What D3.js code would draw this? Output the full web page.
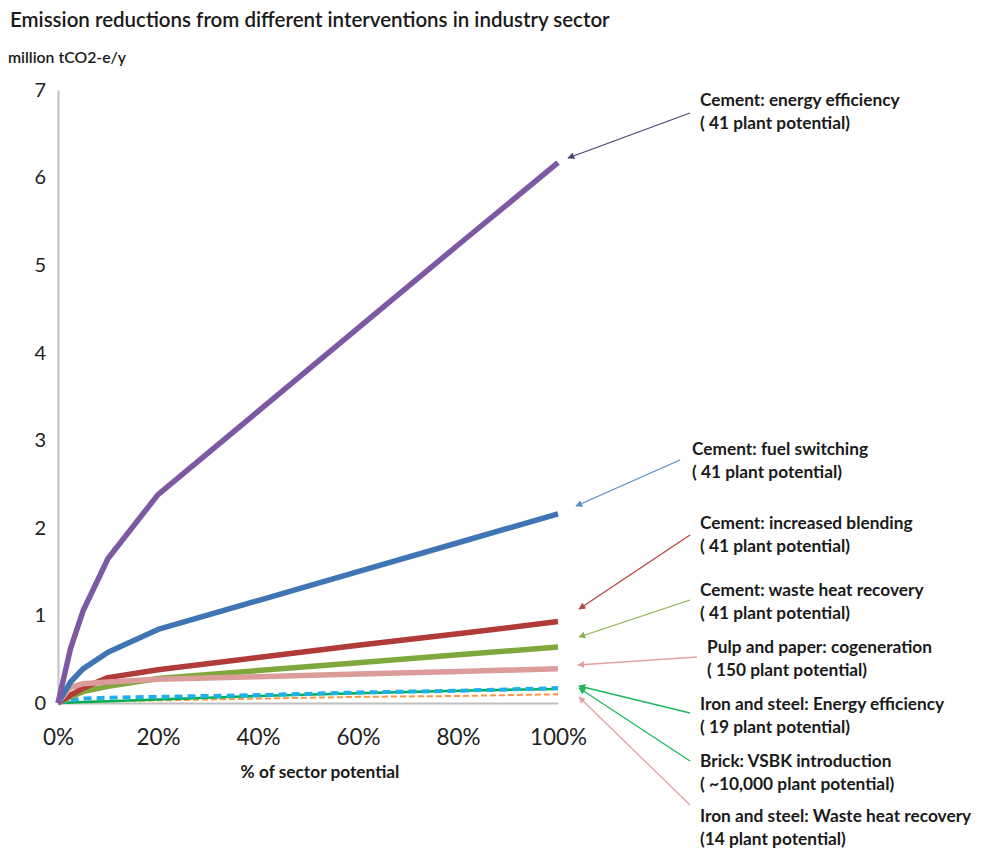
<!DOCTYPE html>
<html>
<head>
<meta charset="utf-8">
<script src="https://cdn.jsdelivr.net/npm/d3@7"></script>
<style>
  body { margin: 0; background: #fff; }
  svg { display: block; }
  .axis text { font-family: Lato, "Open Sans", sans-serif; fill: #222; }
  .note { font-family: Lato, "Open Sans", sans-serif; font-weight: bold; font-size: 17.3px; fill: #1a1a1a; }
</style>
</head>
<body>
<svg width="984" height="849"></svg>
<script>
// x positions (share of sector potential)
var sectorShare = [0, 0.025, 0.05, 0.1, 0.2, 0.4, 0.6, 0.8, 1.0];

// million tCO2-e/y
var cementEnergyEff   = [0, 0.62, 1.05, 1.65, 2.38, 3.33, 4.28, 5.23, 6.17];
var cementFuelSwitch  = [0, 0.24, 0.39, 0.58, 0.84, 1.17, 1.50, 1.83, 2.16];
var cementBlending    = [0, 0.09, 0.17, 0.29, 0.38, 0.52, 0.66, 0.79, 0.93];
var cementWasteHeat   = [0, 0.07, 0.13, 0.19, 0.28, 0.37, 0.46, 0.55, 0.64];
var pulpCogeneration  = [0, 0.18, 0.22, 0.24, 0.27, 0.30, 0.33, 0.36, 0.39];
var ironEnergyEff     = [0, 0.03, 0.05, 0.06, 0.07, 0.09, 0.12, 0.14, 0.17];
var brickVSBK         = [0, 0.005, 0.01, 0.02, 0.04, 0.08, 0.11, 0.14, 0.16];
var ironWasteHeat     = [0, 0.005, 0.01, 0.02, 0.03, 0.05, 0.07, 0.08, 0.10];

var yTicks = [0, 1, 2, 3, 4, 5, 6, 7];
var xTicks = [0, 0.2, 0.4, 0.6, 0.8, 1.0];

var noteLines = [
  ["Cement: energy efficiency", "( 41 plant potential)"],
  ["Cement: fuel switching", "( 41 plant potential)"],
  ["Cement: increased blending", "( 41 plant potential)"],
  ["Cement: waste heat recovery", "( 41 plant potential)"],
  ["Pulp and paper: cogeneration", "( 150 plant potential)"],
  ["Iron and steel: Energy efficiency", "( 19 plant potential)"],
  ["Brick: VSBK introduction", "( ~10,000 plant potential)"],
  ["Iron and steel: Waste heat recovery", "(14 plant potential)"]
];

var svg = d3.select("svg");

var x = d3.scaleLinear().domain([0, 1]).range([58, 558]);
var y = d3.scaleLinear().domain([0, 7]).range([703, 90]);

// series drawn bottom first so the big ones sit on top
var series = [
  { values: ironWasteHeat,    color: "#F79646", width: 2,   dash: "6,3" },
  { values: brickVSBK,        color: "#00B050", width: 2.5, dash: null },
  { values: ironEnergyEff,    color: "#1FB0EC", width: 4,   dash: "8,5" },
  { values: cementWasteHeat,  color: "#7FA83C", width: 5.5, dash: null },
  { values: cementBlending,   color: "#B03B38", width: 5.5, dash: null },
  { values: pulpCogeneration, color: "#DC9C9A", width: 5.5, dash: null },
  { values: cementFuelSwitch, color: "#3F75B5", width: 5.5, dash: null },
  { values: cementEnergyEff,  color: "#7D58A3", width: 5.5, dash: null }
];

// title and units
svg.append("text")
  .attr("x", 10).attr("y", 27)
  .attr("font-family", "Lato, sans-serif")
  .attr("font-size", "20.5px")
  .attr("font-weight", "600")
  .attr("fill", "#1a1a1a")
  .text("Emission reductions from different interventions in industry sector");

svg.append("text")
  .attr("x", 8).attr("y", 63)
  .attr("font-family", "Lato, sans-serif")
  .attr("font-size", "15.8px")
  .attr("font-weight", "600")
  .attr("fill", "#1a1a1a")
  .text("million tCO2-e/y");

// axes
var yAxis = svg.append("g")
  .attr("class", "axis")
  .attr("transform", "translate(" + x(0) + ",0)")
  .call(d3.axisLeft(y).tickValues(yTicks).tickSize(0).tickPadding(12).tickFormat(d3.format("d")));
yAxis.select(".domain").attr("stroke", "#BFBFBF").attr("stroke-width", 2);
yAxis.selectAll("text").attr("font-size", "20px");

var xAxis = svg.append("g")
  .attr("class", "axis")
  .attr("transform", "translate(0," + y(0) + ")")
  .call(d3.axisBottom(x).tickValues(xTicks).tickSize(0).tickPadding(26).tickFormat(d3.format(".0%")));
xAxis.select(".domain").attr("stroke", "#BFBFBF").attr("stroke-width", 2);
xAxis.selectAll("text").attr("font-size", "22.5px");

svg.append("text")
  .attr("class", "note")
  .attr("x", 320).attr("y", 778)
  .attr("text-anchor", "middle")
  .text("% of sector potential");

// lines
var line = d3.line()
  .x(function (d, i) { return x(sectorShare[i]); })
  .y(function (d) { return y(d); });

svg.selectAll(".series")
  .data(series)
  .enter().append("path")
  .attr("class", "series")
  .attr("fill", "none")
  .attr("stroke", function (d) { return d.color; })
  .attr("stroke-width", function (d) { return d.width; })
  .attr("stroke-dasharray", function (d) { return d.dash; })
  .attr("stroke-linejoin", "round")
  .attr("d", function (d) { return line(d.values); });

// annotations: text position and arrow from/to
var notes = [
  { tx: 700, ty: 106, from: [690, 113], to: [568, 158], color: "#4E4470" },
  { tx: 692, ty: 455, from: [680, 460], to: [576, 506], color: "#5B8ACB" },
  { tx: 700, ty: 529, from: [690, 535], to: [579, 609], color: "#B84845" },
  { tx: 700, ty: 596, from: [690, 600], to: [579, 637], color: "#8DB04E" },
  { tx: 707, ty: 653, from: [697, 657], to: [578, 665], color: "#E3A2A1" },
  { tx: 700, ty: 710, from: [690, 713], to: [579, 686], color: "#1CB85C" },
  { tx: 700, ty: 767, from: [690, 761], to: [579, 688], color: "#1CB85C" },
  { tx: 700, ty: 822, from: [690, 805], to: [579, 697], color: "#E3A2A1" }
];

var defs = svg.append("defs");
notes.forEach(function (n, i) {
  defs.append("marker")
    .attr("id", "head" + i)
    .attr("viewBox", "0 0 10 10")
    .attr("refX", 9).attr("refY", 5)
    .attr("markerWidth", 7).attr("markerHeight", 7)
    .attr("markerUnits", "userSpaceOnUse")
    .attr("orient", "auto")
    .append("path")
    .attr("d", "M0,0L10,5L0,10z")
    .attr("fill", n.color);
});

var note = svg.selectAll(".ann")
  .data(notes)
  .enter().append("g")
  .attr("class", "ann");

note.append("line")
  .attr("x1", function (d) { return d.from[0]; })
  .attr("y1", function (d) { return d.from[1]; })
  .attr("x2", function (d) { return d.to[0]; })
  .attr("y2", function (d) { return d.to[1]; })
  .attr("stroke", function (d) { return d.color; })
  .attr("stroke-width", 1.3)
  .attr("marker-end", function (d, i) { return "url(#head" + i + ")"; });

note.append("text")
  .attr("class", "note")
  .attr("x", function (d) { return d.tx; })
  .attr("y", function (d) { return d.ty; })
  .text(function (d, i) { return noteLines[i][0]; });

note.append("text")
  .attr("class", "note")
  .attr("x", function (d) { return d.tx; })
  .attr("y", function (d) { return d.ty + 23; })
  .text(function (d, i) { return noteLines[i][1]; });
</script>
</body>
</html>
